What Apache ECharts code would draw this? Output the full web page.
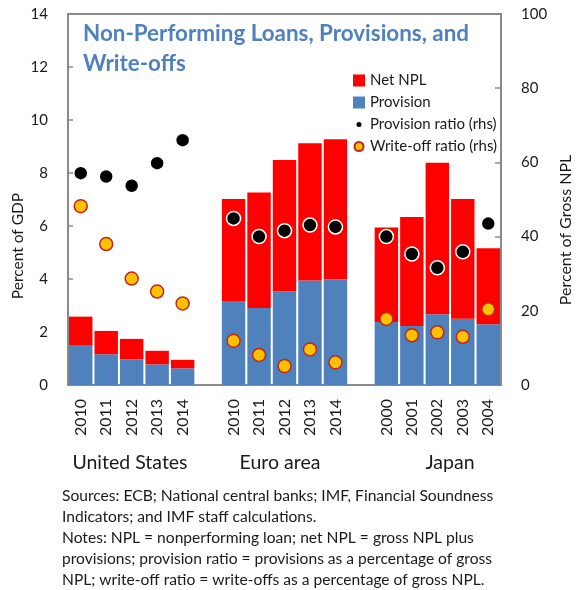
<!DOCTYPE html>
<html>
<head>
<meta charset="utf-8">
<script src="https://cdn.jsdelivr.net/npm/echarts@6/dist/echarts.min.js"></script>
<style>
  html, body { margin: 0; padding: 0; background: #fff; }
  #main { width: 576px; height: 590px; }
</style>
</head>
<body>
<div id="main"></div>
<script>
// slots: 5 US years, gap, 5 euro years, gap, 5 japan years
var categories = ['2010', '2011', '2012', '2013', '2014', '',
                  '2010', '2011', '2012', '2013', '2014', '',
                  '2000', '2001', '2002', '2003', '2004'];
var provision = [1.51, 1.16, 0.97, 0.78, 0.63, null,
                 3.17, 2.91, 3.53, 3.94, 3.99, null,
                 2.38, 2.23, 2.67, 2.50, 2.29];
var netNpl = [1.07, 0.88, 0.77, 0.51, 0.32, null,
              3.85, 4.35, 4.96, 5.18, 5.28, null,
              3.56, 4.11, 5.72, 4.52, 2.87];
var provRatio = [57.1, 56.2, 53.7, 59.8, 66.0, null,
                 44.9, 40.0, 41.6, 43.1, 42.6, null,
                 40.0, 35.3, 31.6, 35.9, 43.5];
var writeOffRatio = [48.2, 38.0, 28.7, 25.2, 22.0, null,
                     11.9, 8.1, 5.1, 9.6, 6.1, null,
                     17.8, 13.4, 14.2, 13.0, 20.4];
var leftTicks = [0, 14, 2];
var rightTicks = [0, 100, 20];

var FONT = 'Lato, "Noto Sans", sans-serif';
var AXIS_GRAY = '#8a8a8a';

var chart = echarts.init(document.getElementById('main'));

var option = {
  animation: false,
  backgroundColor: '#fff',
  textStyle: { fontFamily: FONT, color: '#1a1a1a' },
  title: {
    text: 'Non-Performing Loans, Provisions, and\nWrite-offs',
    left: 78,
    top: 14,
    textStyle: {
      fontFamily: FONT, fontWeight: 'bold', fontSize: 22.4,
      color: '#4F81BD', lineHeight: 30
    }
  },
  legend: {
    orient: 'vertical',
    left: 347,
    top: 68,
    itemWidth: 12,
    itemHeight: 12,
    itemGap: 7,
    textStyle: { fontFamily: FONT, fontSize: 15, color: '#1a1a1a' },
    data: [
      { name: 'Net NPL', icon: 'rect' },
      { name: 'Provision', icon: 'rect' },
      { name: 'Provision ratio (rhs)', icon: 'path://M0,0M12,12M6,2.5A3.5,3.5,0,1,1,6,9.5A3.5,3.5,0,1,1,6,2.5Z' },
      { name: 'Write-off ratio (rhs)', icon: 'path://M0,0M12,12M6,1.5A4.5,4.5,0,1,1,6,10.5A4.5,4.5,0,1,1,6,1.5Z' }
    ]
  },
  grid: {
    left: 68, right: 75, top: 14, bottom: 205,
    show: true,
    borderColor: AXIS_GRAY,
    borderWidth: 2,
    containLabel: false
  },
  xAxis: {
    type: 'category',
    data: categories,
    axisLine: { show: true, lineStyle: { color: AXIS_GRAY, width: 2 } },
    axisTick: { show: false },
    axisLabel: {
      rotate: 90, interval: 0, margin: 14,
      fontFamily: FONT, fontSize: 16, color: '#1a1a1a'
    }
  },
  yAxis: [
    {
      type: 'value',
      min: leftTicks[0], max: leftTicks[1], interval: leftTicks[2],
      position: 'left',
      splitLine: { show: false },
      axisLine: { show: true, lineStyle: { color: AXIS_GRAY, width: 2 } },
      axisTick: { show: true, inside: true, length: 5, lineStyle: { color: AXIS_GRAY, width: 1.5 } },
      axisLabel: { margin: 20, fontFamily: FONT, fontSize: 15, color: '#1a1a1a' }
    },
    {
      type: 'value',
      min: rightTicks[0], max: rightTicks[1], interval: rightTicks[2],
      position: 'right',
      splitLine: { show: false },
      axisLine: { show: true, lineStyle: { color: AXIS_GRAY, width: 2 } },
      axisTick: { show: true, inside: true, length: 6, lineStyle: { color: AXIS_GRAY, width: 1.5 } },
      axisLabel: { margin: 20, fontFamily: FONT, fontSize: 15, color: '#1a1a1a' }
    }
  ],
  series: [
    {
      name: 'Provision',
      type: 'bar',
      stack: 'npl',
      data: provision,
      barCategoryGap: '8%',
      itemStyle: { color: '#4F81BD' }
    },
    {
      name: 'Net NPL',
      type: 'bar',
      stack: 'npl',
      data: netNpl,
      barCategoryGap: '8%',
      itemStyle: { color: '#FF0000' }
    },
    {
      name: 'Provision ratio (rhs)',
      type: 'scatter',
      yAxisIndex: 1,
      data: provRatio,
      symbol: 'circle',
      symbolSize: 14,
      itemStyle: { color: '#000', borderColor: '#fff', borderWidth: 1.5, opacity: 1 },
      z: 5
    },
    {
      name: 'Write-off ratio (rhs)',
      type: 'scatter',
      yAxisIndex: 1,
      data: writeOffRatio,
      symbol: 'circle',
      symbolSize: 13,
      itemStyle: { color: '#FFC000', borderColor: '#C0261A', borderWidth: 1.5, opacity: 1 },
      z: 5
    }
  ],
  graphic: [
    {
      type: 'text', x: 18, y: 246, rotation: Math.PI / 2,
      style: { text: 'Percent of GDP', font: '15.5px ' + FONT, fill: '#1a1a1a', align: 'center', verticalAlign: 'middle' }
    },
    {
      type: 'text', x: 566, y: 230, rotation: Math.PI / 2,
      style: { text: 'Percent of Gross NPL', font: '16px ' + FONT, fill: '#1a1a1a', align: 'center', verticalAlign: 'middle' }
    },
    {
      type: 'text', x: 130, y: 463,
      style: { text: 'United States', font: '19.5px ' + FONT, fill: '#1a1a1a', align: 'center', verticalAlign: 'middle' }
    },
    {
      type: 'text', x: 280, y: 463,
      style: { text: 'Euro area', font: '19.5px ' + FONT, fill: '#1a1a1a', align: 'center', verticalAlign: 'middle' }
    },
    {
      type: 'text', x: 450, y: 463,
      style: { text: 'Japan', font: '19.5px ' + FONT, fill: '#1a1a1a', align: 'center', verticalAlign: 'middle' }
    },
    {
      type: 'text', x: 62, y: 486,
      style: {
        text: 'Sources: ECB; National central banks; IMF, Financial Soundness\n' +
              'Indicators; and IMF staff calculations.\n' +
              'Notes: NPL = nonperforming loan; net NPL = gross NPL plus\n' +
              'provisions; provision ratio = provisions as a percentage of gross\n' +
              'NPL; write-off ratio = write-offs as a percentage of gross NPL.',
        font: '15.6px ' + FONT, fill: '#1a1a1a', lineHeight: 20.8,
        align: 'left', verticalAlign: 'top'
      }
    }
  ]
};

chart.setOption(option);
</script>
</body>
</html>
